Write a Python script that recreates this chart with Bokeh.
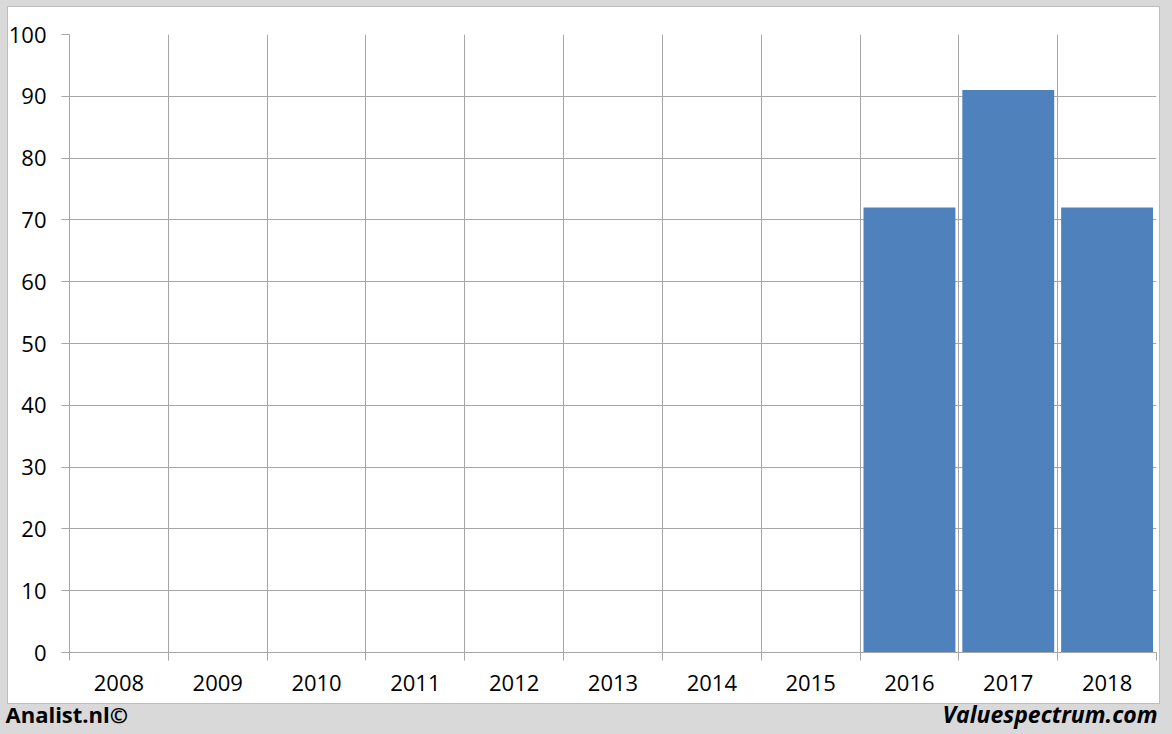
from bokeh.plotting import figure
from bokeh.models import FixedTicker, Range1d, Label
from bokeh.embed import file_html
from bokeh.resources import INLINE

years = ["2008", "2009", "2010", "2011", "2012", "2013", "2014", "2015", "2016", "2017", "2018"]
bar_years = ["2016", "2017", "2018"]
bar_values = [72, 91, 72]
y_ticks = [0, 10, 20, 30, 40, 50, 60, 70, 80, 90, 100]
footer_left = "Analist.nl©"
footer_right = "Valuespectrum.com"

GRID = "#a6a6a6"
BAR = "#4f81bd"
BG = "#d9d9d9"
FONT = "Open Sans"

n = len(years)
centers = [i + 0.5 for i in range(n)]
bar_x = [years.index(y) + 0.5 for y in bar_years]

p = figure(frame_width=1087, frame_height=618, x_range=Range1d(0, n), y_range=Range1d(0, 100),
           output_backend="svg", toolbar_location=None,
           min_border_left=69, min_border_right=16, min_border_top=34, min_border_bottom=82)
p.outline_line_color = None
p.background_fill_color = "white"
p.border_fill_color = None
# white chart panel with a thin grey rim on a grey page
p.styles = {
    "background": ("linear-gradient(#ffffff,#ffffff) 8px 7px / 1151px 696px no-repeat, "
                   "linear-gradient(#bdbdbd,#bdbdbd) 7px 6px / 1153px 698px no-repeat, "
                   + BG)
}

p.vbar(x=bar_x, top=bar_values, width=0.93, bottom=0, fill_color=BAR, line_color=None)

# x axis: labels at category centres, tick marks at category boundaries
p.xaxis.ticker = FixedTicker(ticks=centers, minor_ticks=list(range(n + 1)))
p.xaxis.major_label_overrides = {c: y for c, y in zip(centers, years)}
p.xaxis.major_tick_line_color = None
p.xaxis.major_tick_out = 0
p.xaxis.major_tick_in = 0
p.xaxis.minor_tick_line_color = GRID
p.xaxis.minor_tick_out = 8
p.xaxis.minor_tick_in = 0
p.xaxis.axis_line_color = GRID
p.xaxis.major_label_standoff = 14
p.xaxis.major_label_text_font = FONT
p.xaxis.major_label_text_font_size = "22px"
p.xaxis.major_label_text_color = "black"

p.yaxis.ticker = FixedTicker(ticks=y_ticks)
p.yaxis.major_tick_line_color = GRID
p.yaxis.major_tick_out = 8
p.yaxis.major_tick_in = 0
p.yaxis.minor_tick_line_color = None
p.yaxis.axis_line_color = GRID
p.yaxis.major_label_standoff = 15
p.yaxis.major_label_text_font = FONT
p.yaxis.major_label_text_font_size = "22px"
p.yaxis.major_label_text_color = "black"

p.xgrid.ticker = FixedTicker(ticks=list(range(n + 1)))
p.xgrid.grid_line_color = GRID
p.ygrid.ticker = FixedTicker(ticks=y_ticks)
p.ygrid.grid_line_color = GRID

# footer texts, placed in side panels (not clipped to the frame)
p.add_layout(Label(x=-64, y=10, x_units="screen", y_units="screen", text=footer_left,
                   text_font=FONT, text_font_style="bold", text_font_size="22px",
                   text_color="black", text_baseline="alphabetic"), "below")
p.add_layout(Label(x=1088, y=-679, x_units="screen", y_units="screen", text=footer_right,
                   text_font=FONT, text_font_style="bold italic", text_font_size="23px",
                   text_color="black", text_align="right", text_baseline="alphabetic"), "above")

html = file_html(p, INLINE)
html = html.replace("</head>",
                    "<style>html,body{background:%s;overflow:hidden;}</style></head>" % BG, 1)
open("out.html", "w").write(html)
